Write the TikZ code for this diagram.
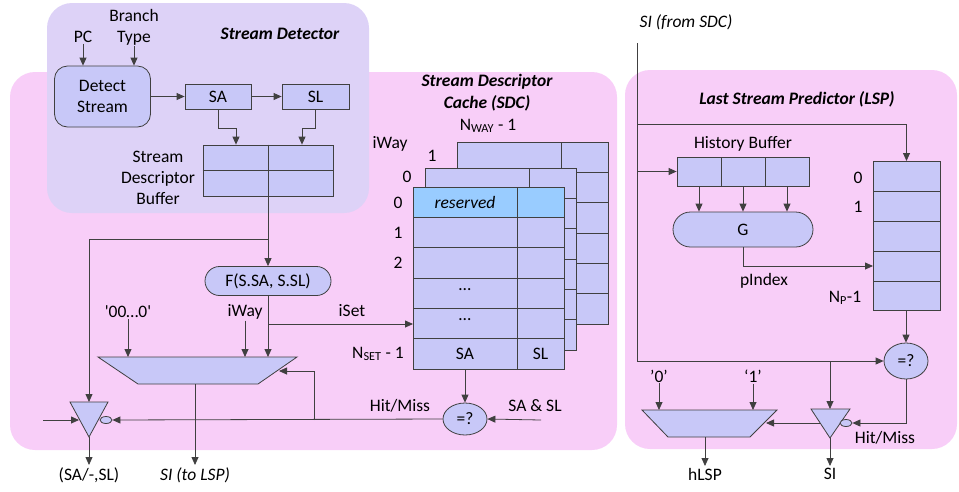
\documentclass[tikz,border=0pt]{standalone}
\usepackage{fontspec}
\setmainfont{Carlito}
\usetikzlibrary{arrows.meta}
\usetikzlibrary{shapes.geometric}
\usetikzlibrary{shapes.misc}

\definecolor{sdlilac}{RGB}{221,210,247}
\definecolor{blockpink}{RGB}{248,206,248}
\definecolor{cellblue}{RGB}{200,200,248}
\definecolor{resblue}{RGB}{153,204,255}

\begin{document}
\begin{tikzpicture}[x=1pt, y=-1pt, font=\fontsize{17.5}{21}\selectfont,
  wire/.style={draw=black!75, line width=0.8pt},
  arr/.style={wire, -{Triangle[length=8pt,width=7pt]}},
  cell/.style={wire, fill=cellblue, inner sep=0pt},
  rbox/.style={cell, rounded corners=13pt, align=center},
  pill/.style={cell, rounded rectangle},
  cmp/.style={cell, ellipse, minimum width=44pt},
  bubble/.style={cell, ellipse, minimum width=12pt, minimum height=7pt},
  title/.style={font=\fontsize{17.5}{22}\selectfont\bfseries\itshape, align=center},
  lbl/.style={inner sep=1pt, align=center}]
\useasboundingbox (0,0) rectangle (959,491);

% blocks
\fill[blockpink, rounded corners=25pt] (10,72) rectangle (617,450);
\fill[blockpink, rounded corners=25pt] (625,70) rectangle (957,449);
\fill[sdlilac, rounded corners=25pt] (47,3) rectangle (369,213);

%% stream detector
\node[title] at (280,34) {Stream Detector};
\node[lbl] (pc) at (83,37) {PC};
\node[lbl] (btype) at (134,27) {Branch\\Type};
\node[rbox, minimum width=96pt, minimum height=61pt] (detect) at (102.5,96.5) {Detect\\Stream};
\node[cell, minimum width=66pt, minimum height=25pt] (sa) at (218,96.5) {SA};
\node[cell, minimum width=67pt, minimum height=25pt] (sl) at (315.5,96.5) {SL};
\node[cell, minimum width=130pt, minimum height=51pt] (sdb) at (268,170.5) {};
\draw[wire] (sdb.west) -- (sdb.east) (sdb.north) -- (sdb.south);
\node[lbl] at (158,178) {Stream\\Descriptor\\Buffer};

\draw[arr] (pc.south) -- (pc.south |- detect.north);
\draw[arr] (btype.south) -- (btype.south |- detect.north);
\draw[arr] (detect) -- (sa);
\draw[arr] (sa) -- (sl);
\draw[arr] (sa.south) -- ++(0,19) -| ([xshift=-32pt]sdb.north);
\draw[arr] (sl.south) -- ++(0,19) -| ([xshift=34pt]sdb.north);

%% stream descriptor cache
\node[title] at (487,93) {Stream Descriptor\\Cache (SDC)};
\node[pill, minimum width=126pt, minimum height=29pt] (hash) at (268,281) {F(S.SA, S.SL)};
\coordinate (split) at (268,239);
\coordinate (iset) at (268,324);

% ways, back to front
\foreach \x/\y/\n in {457/142/2, 425/168/1, 413/187/0} {
  \node[cell, minimum width=151pt, minimum height=182pt, anchor=north west] (way\n) at (\x,\y) {};
  \ifnum\n=0
    \fill[resblue] (\x+0.5,\y+0.5) rectangle (\x+150.5,\y+30.33);
  \fi
  \foreach \r in {1,...,5}
    \draw[wire] (\x,{\y+\r*30.33}) -- ++(151,0);
  \draw[wire] (\x+104,\y) -- ++(0,182);
}
\node[lbl] at (465,202) {\itshape reserved};
\node[lbl] at (465,290) {\ldots};
\node[lbl] at (465,320) {\ldots};
\node[lbl] at (465,354) {SA};
\node[lbl] at (540.5,354) {SL};
\node[lbl] at (398,203) {0};
\node[lbl] at (398,233) {1};
\node[lbl] at (398,263) {2};
\node[lbl] at (378,354) {N\textsubscript{SET} - 1};
\node[lbl] at (390,144) {iWay};
\node[lbl] at (432,156) {1};
\node[lbl] at (407,177) {0};
\node[lbl] at (488,126) {N\textsubscript{WAY} - 1};
\node[lbl] at (352,311) {iSet};

\node[cmp, minimum height=32pt] (cmpsdc) at (465,419) {=?};
\coordinate (sasl) at (541,420);
\node[lbl] at (535,406) {SA \& SL};
\node[lbl] at (400,406) {Hit/Miss};

% index mux
\draw[cell] (98,357) coordinate (mux) -- (297,357) -- (258,384) -- (138,384) -- cycle;
\coordinate (muxsel) at (279,371);
\coordinate (muxout) at (195,384);
\coordinate (fb) at (314,420);
\node[lbl] (zeros) at (128,312) {\textquotesingle 00\ldots0\textquotesingle};
\node[lbl] (iway) at (245,312) {iWay};

% tristate
\coordinate (tsd) at (89,402);
\draw[cell] (70,402) -- (108,402) -- (89,437) coordinate (tsdout) -- cycle;
\node[bubble] (tsden) at (106,420) {};
\coordinate (tsdin) at (79,420);
\coordinate (sdin) at (43,420);

\draw[arr] (sdb.south) -- (hash.north);
\draw[arr] (split) -| (tsd);
\draw[arr] (hash.south) -- (hash.south |- mux);
\draw[arr] (iset) -- (iset -| way0.west);
\draw[arr] (zeros.south) -- (zeros.south |- mux);
\draw[arr] (iway.south) -- (iway.south |- mux);
\draw[arr] (cmpsdc |- way0.south) -- (cmpsdc.north);
\draw[arr] (sasl) -- (cmpsdc.east);
\draw[arr] (cmpsdc.west) -- (tsden.east);
\draw[arr] (fb) |- (muxsel);
\draw[arr] (sdin) -- (tsdin);
\draw[arr] (tsdout) -- ++(0,28) node[lbl, below=1pt] {(SA/-,SL)};
\draw[arr] (muxout) -- ++(0,81) node[lbl, below=1pt] {\itshape SI (to LSP)};

%% last stream predictor
\node[title] at (797,99) {Last Stream Predictor (LSP)};
\node[lbl] at (686,22) {\itshape SI (from SDC)};
\coordinate (sifrom) at (637,43);

\node[lbl] at (743,144) {History Buffer};
\node[cell, minimum width=132pt, minimum height=29pt] (hist) at (743,171.5) {};
\draw[wire] (721,157) -- (721,186) (765,157) -- (765,186);
\node[pill, minimum width=140pt, minimum height=35pt] (gfun) at (743,229.5) {G};

\node[cell, minimum width=67pt, minimum height=149pt, anchor=north] (pred) at (906.5,161) {};
\foreach \r in {1,...,4}
  \draw[wire] (873,161+\r*30) -- ++(67,0);
\node[lbl] at (858,178) {0};
\node[lbl] at (858,207) {1};
\node[lbl] at (845,298) {N\textsubscript{P}-1};
\node[lbl] at (764,281) {pIndex};
\coordinate (pidx) at (873,266);

\node[cmp, minimum height=36pt] (cmplsp) at (906,361) {=?};
\node[lbl] at (885,438) {Hit/Miss};

% hLSP mux
\draw[cell] (642,410) coordinate (hmux) -- (777,410) -- (750,437) -- (668,437) -- cycle;
\coordinate (hmuxsel) at (766,423);
\coordinate (hmuxout) at (705,437);
\node[lbl] (lzero) at (659,376) {’0’};
\node[lbl] (lone) at (753,376) {‘1’};

% tristate
\coordinate (tlsp) at (830,409);
\draw[cell] (811,409) -- (850,409) -- (830,438) coordinate (tlspout) -- cycle;
\node[bubble] (tlspen) at (846,423) {};
\coordinate (tlspin) at (820,423);

\draw[arr] (sifrom) |- (cmplsp.west);
\draw[arr] (sifrom |- 0,124) -| (pred.north);
\draw[arr] (sifrom |- hist.west) -- (hist.west);
\foreach \dx in {-44,0,44}
  \draw[arr] ([xshift=\dx pt]hist.south) -- ([xshift=\dx pt]hist.south |- gfun.north);
\draw[arr] (gfun.south) |- (pidx);
\draw[arr] (pred.south -| cmplsp) -- (cmplsp.north);
\draw[arr] (cmplsp.south) |- (tlspen.east);
\draw[arr] (tlsp |- cmplsp) -- (tlsp);
\draw[arr] (tlspin) -- (hmuxsel);
\draw[arr] (lzero.south) -- (lzero.south |- hmux);
\draw[arr] (lone.south) -- (lone.south |- hmux);
\draw[arr] (tlspout) -- ++(0,28) node[lbl, below=1pt] {SI};
\draw[arr] (hmuxout) -- ++(0,29) node[lbl, below=1pt] {hLSP};

\end{tikzpicture}
\end{document}
